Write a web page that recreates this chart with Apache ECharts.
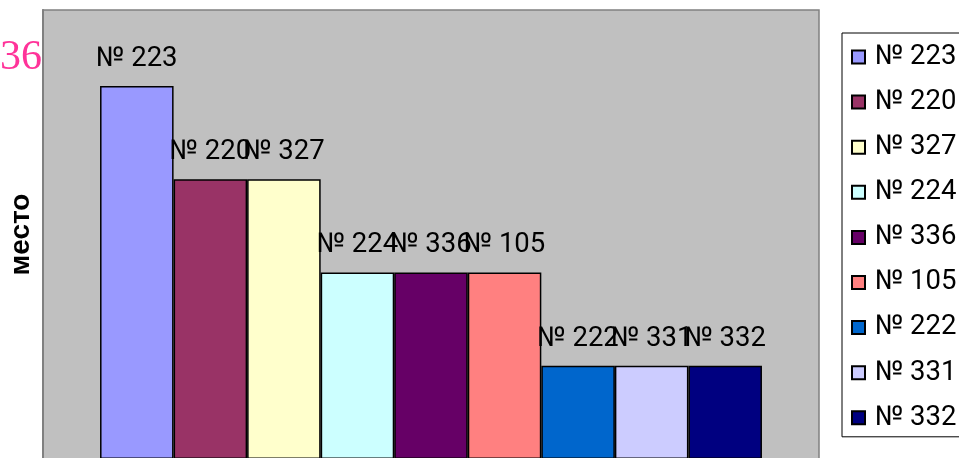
<!DOCTYPE html>
<html>
<head>
<meta charset="utf-8">
<script src="https://cdn.jsdelivr.net/npm/echarts@6/dist/echarts.min.js"></script>
<style>
html,body{margin:0;padding:0;background:#fff;}
#main{width:959px;height:458px;}
</style>
</head>
<body>
<div id="main"></div>
<script>
var categories = [''];
var seriesNames = ['№ 223','№ 220','№ 327','№ 224','№ 336','№ 105','№ 222','№ 331','№ 332'];
var seriesValues = [4, 3, 3, 2, 2, 2, 1, 1, 1];
var seriesColors = ['#9999FF','#993366','#FFFFCC','#CCFFFF','#660066','#FF8080','#0066CC','#CCCCFF','#000080'];
var axisName = 'место';
var pageNumber = '36';

var FONT = 'Roboto, "Liberation Sans", Arial, sans-serif';
var chart = echarts.init(document.getElementById('main'), null, {renderer: 'canvas'});

var series = seriesNames.map(function (name, i) {
  return {
    name: name,
    type: 'bar',
    data: [seriesValues[i]],
    barGap: '0%',
    barCategoryGap: '14.7%',
    itemStyle: {color: seriesColors[i], borderColor: '#000', borderWidth: 1.5},
    label: {
      show: true,
      position: 'top',
      distance: 13,
      formatter: name,
      color: '#000',
      fontFamily: FONT,
      fontSize: 27.5
    },
    emphasis: {disabled: true},
    animation: false
  };
});

chart.setOption({
  animation: false,
  grid: {
    left: 43, top: 10, right: 140, bottom: -1,
    show: true, backgroundColor: '#C0C0C0', borderColor: '#808080', borderWidth: 1.5,
    containLabel: false,
    outerBoundsMode: 'none'
  },
  xAxis: {
    type: 'category',
    data: categories,
    axisLine: {show: false},
    axisTick: {show: false},
    axisLabel: {show: false}
  },
  yAxis: {
    type: 'value',
    min: 0,
    max: 4.815,
    splitLine: {show: false},
    axisLabel: {show: false},
    axisTick: {show: false},
    axisLine: {show: true, lineStyle: {color: '#808080', width: 2}},
    name: axisName,
    nameLocation: 'middle',
    nameGap: 8,
    nameRotate: 90,
    nameTextStyle: {fontFamily: '"Liberation Sans", Arial, sans-serif', fontWeight: 'bold', fontSize: 28, color: '#000'}
  },
  legend: {
    orient: 'vertical',
    left: 842,
    top: 33,
    padding: [10, 40, 5, 9],
    icon: 'rect',
    itemWidth: 13,
    itemHeight: 13,
    itemGap: 17.1,
    backgroundColor: '#fff',
    borderColor: '#000',
    borderWidth: 1,
    textStyle: {fontFamily: FONT, fontSize: 27.5, lineHeight: 27, color: '#000', padding: [0, 0, 0, 5]},
    data: seriesNames
  },
  graphic: [{
    type: 'text',
    left: 0,
    top: 37,
    style: {text: pageNumber, fontFamily: '"Liberation Serif", "Times New Roman", serif', fontSize: 42, fill: '#FF3399'}
  }],
  series: series
});
</script>
</body>
</html>
